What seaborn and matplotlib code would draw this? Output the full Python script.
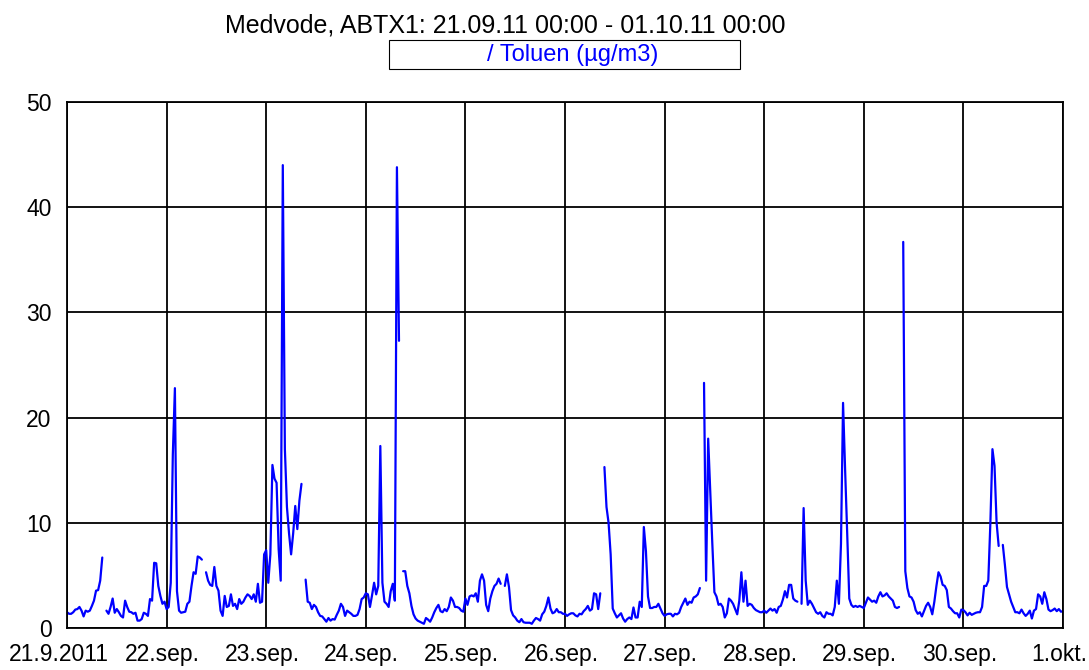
import numpy as np
import pandas as pd
import matplotlib
matplotlib.use("Agg")
import matplotlib.pyplot as plt
import matplotlib.transforms as mtrans
from matplotlib.patches import Rectangle
import seaborn as sns

nan = np.nan

# half-hourly toluene values (ug/m3), one list per day, nan = missing
sep21 = [1.5, 1.35, 1.35, 1.5, 1.75, 1.8, 2.0, 1.65, 1.1, 1.65,
         1.55, 1.65, 2.1, 2.6, 3.55, 3.6, 4.5, 6.7, nan, 1.65,
         1.35, 2.0, 2.8, 1.45, 1.8, 1.5, 1.15, 1.0, 2.6, 2.0,
         1.55, 1.5, 1.35, 1.45, 0.7, 0.7, 0.85, 1.45, 1.35, 1.15,
         2.75, 2.6, 6.2, 6.15, 4.0, 3.05, 2.3, 2.5]
sep22 = [1.8, 2.0, 4.3, 16.5, 22.8, 3.5, 1.65, 1.45, 1.5, 1.55,
         2.3, 2.5, 4.0, 5.3, 5.15, 6.8, 6.7, 6.5, nan, 5.3,
         4.5, 4.1, 4.0, 5.8, 4.0, 3.55, 1.65, 1.15, 3.05, 2.0,
         2.1, 3.2, 2.1, 2.3, 1.8, 2.75, 2.3, 2.5, 2.9, 3.2,
         3.05, 2.75, 3.2, 2.5, 4.2, 2.4, 2.5, 7.0]
sep23 = [7.4, 4.3, 7.0, 15.5, 14.2, 13.8, 7.5, 4.5, 44.0, 17.0,
         11.5, 9.0, 7.0, 9.0, 11.6, 9.4, 12.1, 13.7, nan, 4.6,
         2.5, 2.4, 1.8, 2.2, 2.0, 1.5, 1.15, 1.1, 0.85, 0.6,
         0.95, 0.7, 0.85, 0.8, 1.25, 1.65, 2.3, 2.0, 1.15, 1.65,
         1.5, 1.35, 1.15, 1.15, 1.25, 1.8, 2.75, 2.9]
sep24 = [3.3, 3.2, 2.0, 3.1, 4.3, 3.2, 4.0, 17.3, 4.3, 2.5,
         2.3, 2.0, 3.5, 4.2, 2.6, 43.8, 27.3, nan, 5.4, 5.4,
         4.0, 3.3, 2.1, 1.3, 0.9, 0.7, 0.6, 0.5, 0.4, 0.95,
         0.8, 0.6, 1.0, 1.5, 1.9, 2.2, 1.6, 1.5, 1.8, 1.6,
         2.0, 2.9, 2.6, 2.0, 2.0, 1.9, 1.65, 1.55]
sep25 = [2.8, 2.2, 3.0, 3.1, 3.0, 3.3, 2.5, 4.5, 5.1, 4.5,
         2.2, 1.6, 2.8, 3.5, 4.0, 4.2, 4.7, 4.2, nan, 4.0,
         5.1, 3.9, 1.7, 1.2, 1.0, 0.7, 0.55, 0.85, 0.55, 0.5,
         0.5, 0.5, 0.4, 0.7, 0.95, 0.85, 0.7, 1.3, 1.55, 2.1,
         2.9, 1.85, 1.4, 1.5, 1.8, 1.5, 1.5, 1.35]
sep26 = [1.35, 1.15, 1.3, 1.4, 1.4, 1.2, 1.1, 1.35, 1.3, 1.6,
         1.8, 2.1, 1.65, 1.8, 3.3, 3.2, 1.8, 3.3, nan, 15.3,
         11.5, 10.0, 7.0, 1.85, 1.4, 1.0, 1.2, 1.4, 0.9, 0.6,
         0.85, 1.0, 0.85, 1.95, 1.0, 1.0, 2.5, 2.0, 9.6, 7.3,
         3.0, 1.9, 1.9, 2.0, 2.0, 2.3, 1.85, 1.4]
sep27 = [1.15, 1.3, 1.35, 1.35, 1.1, 1.35, 1.3, 1.45, 2.0, 2.4,
         2.8, 2.2, 2.5, 2.4, 2.9, 3.0, 3.2, 3.8, nan, 23.3,
         4.5, 18.0, 13.0, 8.0, 3.4, 3.0, 2.2, 2.3, 2.0, 1.0,
         1.4, 2.8, 2.6, 2.3, 1.8, 1.3, 2.6, 5.3, 2.5, 4.5,
         2.1, 2.3, 2.2, 1.9, 1.7, 1.6, 1.5, 1.5]
sep28 = [1.65, 1.45, 1.65, 1.85, 1.65, 1.8, 1.45, 2.0, 2.1, 2.7,
         3.5, 2.9, 4.1, 4.1, 2.8, 2.6, 2.5, nan, 2.3, 11.4,
         4.5, 2.2, 2.6, 2.3, 1.9, 1.5, 1.35, 1.5, 1.15, 1.0,
         1.5, 1.35, 1.35, 1.2, 2.0, 4.5, 2.3, 8.0, 21.4, 15.0,
         9.0, 2.8, 2.2, 2.0, 2.1, 2.0, 2.1, 2.0]
sep29 = [1.9, 2.4, 2.9, 2.7, 2.5, 2.6, 2.4, 3.0, 3.4, 3.0,
         3.1, 3.3, 3.0, 2.8, 2.6, 2.0, 1.9, 2.0, nan, 36.7,
         5.4, 3.8, 3.0, 2.9, 2.5, 1.7, 1.35, 1.5, 1.1, 1.6,
         2.1, 2.4, 2.0, 1.3, 2.5, 4.0, 5.3, 4.9, 4.1, 4.0,
         3.6, 2.0, 1.85, 1.6, 1.4, 1.4, 1.0, 1.75]
sep30 = [1.7, 1.5, 1.2, 1.45, 1.25, 1.35, 1.45, 1.5, 1.5, 2.0,
         4.0, 4.0, 4.5, 10.0, 17.0, 15.4, 10.0, 7.8, nan, 7.9,
         6.0, 3.9, 3.2, 2.5, 2.0, 1.5, 1.5, 1.4, 1.75, 1.4,
         1.15, 1.35, 1.65, 0.9, 1.65, 1.8, 3.2, 3.0, 2.3, 3.4,
         2.75, 1.75, 1.6, 1.7, 1.85, 1.6, 1.8, 1.55]
oct01 = [1.6]

day_labels = ["21.9.2011", "22.sep.", "23.sep.", "24.sep.", "25.sep.", "26.sep.",
              "27.sep.", "28.sep.", "29.sep.", "30.sep.", "1.okt."]
title = "Medvode, ABTX1: 21.09.11 00:00 - 01.10.11 00:00"
series_name = "Toluen (µg/m3)"

values = sep21 + sep22 + sep23 + sep24 + sep25 + sep26 + sep27 + sep28 + sep29 + sep30 + oct01
df = pd.DataFrame({
    "time": pd.date_range("2011-09-21 00:00", periods=len(values), freq="30min"),
    "value": values,
})
# split into runs so missing values leave gaps in the line
df["segment"] = df["value"].isna().cumsum()
df = df.dropna()

sns.set_style("white")
plt.rcParams["font.family"] = ["Liberation Sans", "DejaVu Sans"]
plt.rcParams["text.color"] = "black"
plt.rcParams["xtick.color"] = "black"
plt.rcParams["ytick.color"] = "black"

fig = plt.figure(figsize=(10.89, 6.70), dpi=100)
ax = fig.add_axes([67 / 1089, 42 / 670, 996 / 1089, 526 / 670])

sns.lineplot(data=df, x="time", y="value", units="segment", estimator=None,
             color="#0000ff", lw=1.6, legend=False, ax=ax)

days = pd.date_range("2011-09-21", "2011-10-01", freq="D")
ax.set_xlim(days[0], days[-1])
ax.set_ylim(0, 50)
ax.set_xticks(days)
ax.set_xticklabels(day_labels)
ax.set_yticks(range(0, 51, 10))
ax.set_xlabel("")
ax.set_ylabel("")
ax.grid(True, color="black", lw=1.3)
for s in ax.spines.values():
    s.set_color("black")
    s.set_linewidth(1.3)
ax.tick_params(axis="both", length=0, labelsize=16.5)
ax.tick_params(axis="x", pad=11)
ax.tick_params(axis="y", pad=11)

# date labels sit a little left of their grid lines
shift = mtrans.ScaledTranslation(-4 / 100, 0, fig.dpi_scale_trans)
for i, lab in enumerate(ax.get_xticklabels()):
    extra = mtrans.ScaledTranslation(-4 / 100, 0, fig.dpi_scale_trans) if i == 0 else mtrans.Affine2D()
    lab.set_transform(lab.get_transform() + shift + extra)

# title and legend box
fig.text(505 / 1089, 1 - 25 / 670, title, ha="center", va="center", fontsize=18)
fig.patches.append(Rectangle((389 / 1089, 1 - 69 / 670), 351 / 1089, 29 / 670,
                             transform=fig.transFigure, fill=False,
                             edgecolor="black", lw=0.8))
fig.text(573 / 1089, 1 - 55 / 670, "/ " + series_name, color="#0000ff",
         ha="center", va="center", fontsize=17)

fig.savefig("out.png", dpi=100)
